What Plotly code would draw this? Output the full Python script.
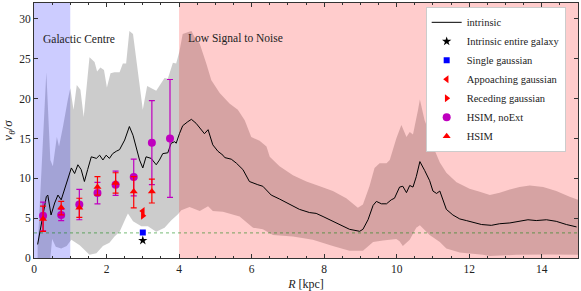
import plotly.graph_objects as go

# ---------------- data ----------------
R_line = [0.10, 0.29, 0.34, 0.38, 0.47, 0.57, 0.66, 0.75, 0.89, 1.03,
          1.12, 1.21, 1.30, 1.39, 1.48, 1.58, 1.72, 1.81, 1.90, 1.99,
          2.08, 2.17, 2.27, 2.36, 2.50, 2.63, 2.73, 2.82, 2.91, 3.00,
          3.09, 3.23, 3.37, 3.46, 3.55, 3.69, 3.78, 3.88, 3.92, 4.01,
          4.10, 4.24, 4.34, 4.47, 4.61, 4.70, 4.80, 4.93, 5.07, 5.21,
          5.26, 5.44, 5.58, 5.76, 5.94, 6.04, 6.17, 6.31, 6.54, 6.77,
          7.05, 7.32, 7.60, 7.78, 7.97, 8.15, 8.43, 8.70, 8.98, 9.07,
          9.21, 9.35, 9.44, 9.58, 9.72, 9.85, 9.94, 10.08, 10.17, 10.27,
          10.36, 10.45, 10.54, 10.64, 10.77, 10.91, 11.00, 11.10, 11.19, 11.37,
          11.55, 11.74, 11.92, 12.10, 12.34, 12.61, 12.84, 13.12, 13.39, 13.62,
          13.85, 14.13, 14.40, 14.68, 14.96]
v_line = [1.7, 6.5, 7.7, 7.9, 5.4, 6.9, 7.9, 7.3, 9.4, 11.3,
          10.6, 11.7, 11.1, 9.6, 11.1, 12.7, 12.5, 12.9, 12.3, 12.9,
          12.5, 13.1, 13.4, 13.6, 14.8, 16.5, 15.4, 14.0, 12.3, 11.3,
          12.7, 12.5, 11.7, 12.3, 13.1, 13.2, 14.4, 14.6, 14.4, 15.6,
          16.6, 17.1, 17.4, 16.9, 16.1, 15.6, 16.1, 14.2, 13.4, 12.9,
          12.6, 12.4, 11.9, 11.1, 9.6, 9.4, 9.2, 9.0, 7.9, 7.4,
          6.7, 6.1, 5.7, 5.6, 5.2, 4.8, 4.1, 3.6, 3.35, 3.6,
          4.8, 6.6, 7.1, 6.8, 6.8, 7.3, 7.5, 8.9, 9.0, 8.2,
          9.1, 8.9, 10.2, 12.1, 11.0, 9.7, 8.4, 8.1, 8.4, 6.1,
          5.4, 4.9, 4.7, 4.5, 4.2, 4.1, 4.3, 4.4, 4.6, 4.8,
          4.7, 4.8, 4.6, 4.2, 3.9]

R_upper = [0.10, 0.13, 0.34, 0.45, 0.52, 0.63, 0.69, 0.80, 0.93, 1.00,
           1.09, 1.18, 1.28, 1.37, 1.53, 1.67, 1.74, 1.83, 1.93, 2.01,
           2.11, 2.22, 2.36, 2.45, 2.54, 2.63, 2.73, 3.00, 3.12, 3.37,
           3.60, 3.69, 3.83, 3.92, 4.01, 4.10, 4.34, 4.43, 4.57, 4.75,
           4.89, 5.12, 5.39, 5.62, 5.81, 5.99, 6.22, 6.41, 6.50, 6.77,
           7.14, 7.51, 7.88, 8.24, 8.61, 8.93, 9.07, 9.25, 9.39, 9.53,
           9.72, 9.81, 9.99, 10.13, 10.27, 10.36, 10.45, 10.59, 10.64, 10.77,
           10.91, 11.05, 11.19, 11.37, 11.65, 12.01, 12.29, 12.57, 12.84, 13.12,
           13.39, 13.67, 14.04, 14.40, 14.77, 15.00]
v_upper = [1.8, 4.0, 23.3, 12.3, 11.5, 15.2, 14.0, 16.5, 19.8, 21.3,
           18.6, 21.7, 21.1, 17.7, 25.2, 24.6, 23.4, 23.9, 23.6, 21.4,
           23.2, 23.3, 23.3, 24.4, 24.4, 28.5, 28.1, 18.6, 21.6, 21.0,
           22.6, 22.5, 24.5, 24.4, 25.9, 28.1, 28.5, 27.7, 26.9, 24.4,
           22.3, 20.7, 19.4, 18.6, 17.3, 15.2, 14.7, 14.0, 12.7, 11.5,
           10.4, 9.6, 9.0, 8.4, 7.5, 6.3, 6.7, 9.0, 11.3, 11.9,
           11.9, 12.3, 15.0, 16.7, 15.2, 15.8, 15.5, 18.6, 19.9, 17.3,
           15.6, 13.5, 12.0, 10.7, 9.5, 8.7, 8.3, 7.9, 8.2, 8.6,
           8.9, 9.1, 8.9, 8.4, 7.7, 7.3]

R_lower = [0.10, 0.45, 0.50, 0.60, 0.75, 0.90, 1.03, 1.26, 1.53, 1.72,
           1.90, 2.08, 2.22, 2.36, 2.54, 2.59, 2.73, 2.96, 3.14, 3.37,
           3.60, 3.78, 3.97, 4.06, 4.29, 4.57, 4.80, 4.93, 5.21, 5.67,
           6.04, 6.31, 6.59, 7.14, 7.69, 8.24, 8.70, 9.07, 9.35, 9.62,
           9.99, 10.08, 10.17, 10.36, 10.54, 10.64, 10.82, 10.91, 11.19, 11.37,
           11.74, 12.38, 12.57, 13.30, 14.20, 15.00]
v_lower = [0.0, 0.0, 2.4, 1.4, 1.2, 1.5, 2.3, 1.6, 0.4, 0.6,
           1.5, 1.9, 2.7, 3.3, 5.1, 5.6, 4.6, 4.0, 4.0, 3.3,
           3.8, 4.7, 5.5, 6.0, 6.4, 5.9, 6.5, 5.9, 5.8, 5.2,
           3.8, 3.6, 2.9, 2.7, 2.3, 1.5, 0.9, 0.9, 2.0, 2.2,
           2.4, 2.1, 1.5, 2.3, 3.8, 4.1, 3.3, 2.9, 2.0, 1.2,
           0.7, 0.4, 0.25, 0.4, 0.45, 0.4]

gc_range = [0, 1]
lsn_range = [4, 15]
y_range = [0, 32]
x_range = [0, 15]
ref_level = 3.15

R_single = [3.0]
v_entire = [2.2]
v_single = [3.2]
v_approach = [5.9]
v_recede = [5.3]

R_noext = [0.25, 0.75, 1.25, 1.75, 2.25, 2.75, 3.25, 3.75]
v_noext = [5.3, 5.4, 6.7, 8.15, 9.2, 10.15, 14.45, 15.0]
e_noext_plus = [1.7, 0.7, 1.9, 1.35, 1.7, 2.25, 5.3, 7.4]
e_noext_minus = [1.9, 0.7, 1.9, 1.35, 1.35, 2.35, 5.25, 7.4]

R_hsim = [0.25, 0.75, 1.25, 1.75, 2.25, 2.75, 3.25]
v_hsim = [4.9, 6.35, 6.3, 8.9, 9.4, 8.35, 8.35]
e_hsim_plus = [1.6, 0.75, 1.2, 1.3, 1.3, 1.85, 1.55]
e_hsim_minus = [1.55, 0.95, 1.2, 1.0, 1.25, 2.05, 1.45]

FONT = "Liberation Serif"

fig = go.Figure()

# grey scatter band
fig.add_trace(go.Scatter(
    x=R_upper + R_lower[::-1], y=v_upper + v_lower[::-1],
    fill="toself", fillcolor="rgba(128,128,128,0.4)", mode="none",
    line=dict(width=0), showlegend=False, hoverinfo="skip"))

# region spans (drawn above the band)
for rng, col in [(gc_range, "rgba(0,0,255,0.2)"), (lsn_range, "rgba(255,0,0,0.2)")]:
    fig.add_trace(go.Scatter(
        x=[rng[0], rng[1], rng[1], rng[0]],
        y=[y_range[0], y_range[0], y_range[1], y_range[1]],
        fill="toself", fillcolor=col, mode="none", line=dict(width=0),
        showlegend=False, hoverinfo="skip"))

# reference dotted line
fig.add_trace(go.Scatter(
    x=x_range, y=[ref_level, ref_level], mode="lines",
    line=dict(color="rgba(0,128,0,0.6)", width=0.9, dash="dot"),
    showlegend=False, hoverinfo="skip"))

fig.add_trace(go.Scatter(x=R_line, y=v_line, mode="lines", name="intrinsic",
                         line=dict(color="black", width=1)))
fig.add_trace(go.Scatter(x=R_single, y=v_entire, mode="markers",
                         name="Intrinsic entire galaxy",
                         marker=dict(symbol="star", size=7, color="black")))
fig.add_trace(go.Scatter(x=R_single, y=v_single, mode="markers",
                         name="Single gaussian",
                         marker=dict(symbol="square", size=6, color="blue")))
fig.add_trace(go.Scatter(x=R_single, y=v_approach, mode="markers",
                         name="Appoaching gaussian",
                         marker=dict(symbol="triangle-left", size=7, color="red")))
fig.add_trace(go.Scatter(x=R_single, y=v_recede, mode="markers",
                         name="Receding gaussian",
                         marker=dict(symbol="triangle-right", size=7, color="red")))
fig.add_trace(go.Scatter(
    x=R_noext, y=v_noext, mode="markers", name="HSIM, noExt",
    marker=dict(symbol="circle", size=8, color="#bf00bf"),
    error_y=dict(type="data", array=e_noext_plus, arrayminus=e_noext_minus,
                 color="#bf00bf", thickness=1.2, width=3)))
fig.add_trace(go.Scatter(
    x=R_hsim, y=v_hsim, mode="markers", name="HSIM",
    marker=dict(symbol="triangle-up", size=7, color="red"),
    error_y=dict(type="data", array=e_hsim_plus, arrayminus=e_hsim_minus,
                 color="red", thickness=1.2, width=3)))

fig.add_annotation(x=0.18, y=27.5, text="Galactic Centre", showarrow=False,
                   xanchor="left", yanchor="middle",
                   font=dict(family=FONT, size=11.5, color="#222"))
fig.add_annotation(x=4.2, y=27.5, text="Low Signal to Noise", showarrow=False,
                   xanchor="left", yanchor="middle",
                   font=dict(family=FONT, size=11.5, color="#222"))

axis_common = dict(showline=True, linecolor="#333", linewidth=1, mirror="allticks",
                   ticks="inside", ticklen=4, tickcolor="#333", showgrid=False,
                   zeroline=False, automargin=False,
                   tickfont=dict(family=FONT, size=11.5, color="#222"))
fig.update_xaxes(range=x_range, dtick=2, tick0=0,
                 minor=dict(dtick=0.5, ticks="inside", ticklen=2, tickcolor="#333"),
                 title=dict(text="<i>R</i> [kpc]",
                            font=dict(family=FONT, size=12, color="#222")),
                 **axis_common)
fig.update_yaxes(range=y_range, dtick=5, tick0=0,
                 title=dict(text="<i>v<sub>θ</sub></i>/<i>σ</i>",
                            font=dict(family=FONT, size=13, color="#222")),
                 **axis_common)

fig.update_layout(
    width=581, height=291,
    margin=dict(l=34, r=3, t=3, b=33, autoexpand=False),
    plot_bgcolor="white", paper_bgcolor="white",
    legend=dict(x=0.72, y=0.985, xanchor="left", yanchor="top",
                bgcolor="white", bordercolor="#ccc", borderwidth=1,
                font=dict(family=FONT, size=10.5, color="#222"),
                tracegroupgap=0, itemwidth=30),
)

fig.write_html("out.html", config={"displayModeBar": False},
               post_script="document.body.style.margin='0';document.body.style.padding='0';")
